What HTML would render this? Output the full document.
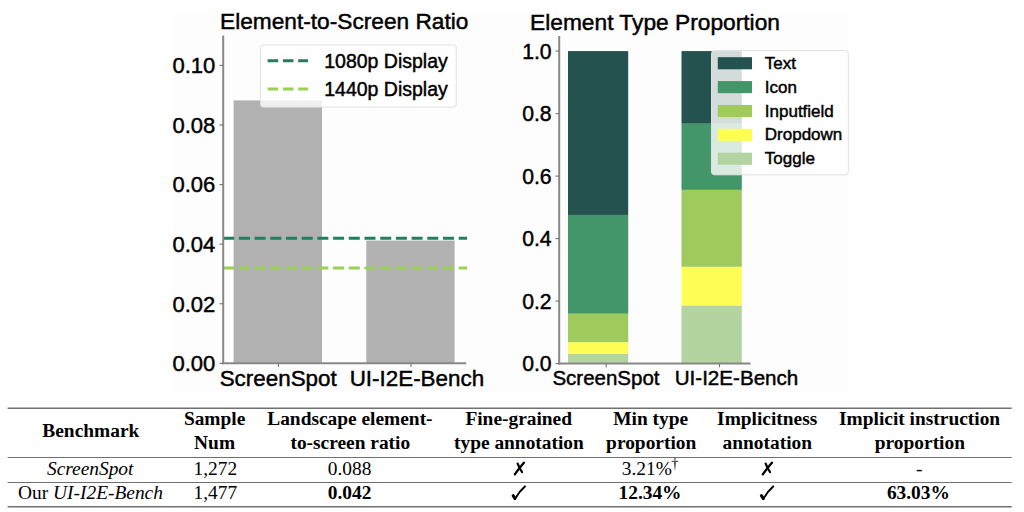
<!DOCTYPE html><html><head><meta charset="utf-8"><style>html,body{margin:0;padding:0;background:#fff;width:1024px;height:512px;overflow:hidden}svg{display:block}text[font-family="Liberation Sans"]{stroke:#000;stroke-width:0.45px}</style></head><body>
<svg width="1024" height="512" viewBox="0 0 1024 512">
<rect x="0" y="0" width="1024" height="512" fill="#fff"/>
<rect x="173.3" y="13" width="676.3" height="379" fill="#fdfdfd"/>
<rect x="233.6" y="100.4" width="88.4" height="262.90" fill="#b1b1b1"/>
<rect x="366.3" y="240.57" width="88.3" height="122.73" fill="#b1b1b1"/>
<line x1="223.2" y1="238.2" x2="467" y2="238.2" stroke="#217f60" stroke-width="3" stroke-dasharray="11 4.7"/>
<line x1="223.2" y1="268" x2="467" y2="268" stroke="#9bcf55" stroke-width="3" stroke-dasharray="11 4.7"/>
<line x1="223.2" y1="35.5" x2="223.2" y2="364.3" stroke="#888888" stroke-width="2"/>
<line x1="222.2" y1="363.3" x2="466.2" y2="363.3" stroke="#888888" stroke-width="2"/>
<line x1="219.39999999999998" y1="363.30" x2="223.2" y2="363.30" stroke="#777777" stroke-width="1.1"/>
<text x="215.3" y="371.20" font-family="Liberation Sans" font-size="22" text-anchor="end" fill="#000">0.00</text>
<line x1="219.39999999999998" y1="303.72" x2="223.2" y2="303.72" stroke="#777777" stroke-width="1.1"/>
<text x="215.3" y="311.62" font-family="Liberation Sans" font-size="22" text-anchor="end" fill="#000">0.02</text>
<line x1="219.39999999999998" y1="244.14" x2="223.2" y2="244.14" stroke="#777777" stroke-width="1.1"/>
<text x="215.3" y="252.04" font-family="Liberation Sans" font-size="22" text-anchor="end" fill="#000">0.04</text>
<line x1="219.39999999999998" y1="184.56" x2="223.2" y2="184.56" stroke="#777777" stroke-width="1.1"/>
<text x="215.3" y="192.46" font-family="Liberation Sans" font-size="22" text-anchor="end" fill="#000">0.06</text>
<line x1="219.39999999999998" y1="124.98" x2="223.2" y2="124.98" stroke="#777777" stroke-width="1.1"/>
<text x="215.3" y="132.88" font-family="Liberation Sans" font-size="22" text-anchor="end" fill="#000">0.08</text>
<line x1="219.39999999999998" y1="65.40" x2="223.2" y2="65.40" stroke="#777777" stroke-width="1.1"/>
<text x="215.3" y="73.30" font-family="Liberation Sans" font-size="22" text-anchor="end" fill="#000">0.10</text>
<line x1="278.4" y1="363.3" x2="278.4" y2="367.1" stroke="#777777" stroke-width="1.1"/>
<line x1="411.0" y1="363.3" x2="411.0" y2="367.1" stroke="#777777" stroke-width="1.1"/>
<text x="219.7" y="386.3" font-family="Liberation Sans" font-size="22.4" fill="#000">ScreenSpot</text>
<text x="349.7" y="386.3" font-family="Liberation Sans" font-size="22.4" fill="#000">UI-I2E-Bench</text>
<text x="220" y="29.2" font-family="Liberation Sans" font-size="22.7" fill="#000">Element-to-Screen Ratio</text>
<rect x="260.4" y="44.9" width="195.8" height="62.2" rx="3" fill="#fff" fill-opacity="0.8" stroke="#e0e0e0" stroke-width="1"/>
<line x1="267.6" y1="60.8" x2="308" y2="60.8" stroke="#217f60" stroke-width="3" stroke-dasharray="10.6 4.7"/>
<line x1="267.6" y1="89" x2="308" y2="89" stroke="#9bcf55" stroke-width="3" stroke-dasharray="10.6 4.7"/>
<text x="324.2" y="68" font-family="Liberation Sans" font-size="19.5" fill="#000">1080p Display</text>
<text x="324.2" y="95.6" font-family="Liberation Sans" font-size="19.5" fill="#000">1440p Display</text>
<rect x="568.0" y="353.79" width="60.2" height="9.81" fill="#b3d3a0"/>
<rect x="568.0" y="342.10" width="60.2" height="11.69" fill="#fdfd55"/>
<rect x="568.0" y="313.69" width="60.2" height="28.41" fill="#9ecb5c"/>
<rect x="568.0" y="214.94" width="60.2" height="98.75" fill="#43966a"/>
<rect x="568.0" y="51.10" width="60.2" height="163.84" fill="#24524e"/>
<rect x="681.5" y="305.41" width="60.3" height="58.19" fill="#b3d3a0"/>
<rect x="681.5" y="266.79" width="60.3" height="38.62" fill="#fdfd55"/>
<rect x="681.5" y="189.85" width="60.3" height="76.94" fill="#9ecb5c"/>
<rect x="681.5" y="123.69" width="60.3" height="66.16" fill="#43966a"/>
<rect x="681.5" y="51.10" width="60.3" height="72.59" fill="#24524e"/>
<line x1="559.2" y1="35.9" x2="559.2" y2="364.6" stroke="#888888" stroke-width="2"/>
<line x1="558.2" y1="363.6" x2="750.6" y2="363.6" stroke="#888888" stroke-width="2"/>
<line x1="555.4000000000001" y1="363.60" x2="559.2" y2="363.60" stroke="#777777" stroke-width="1.1"/>
<text x="551.6" y="371.20" font-family="Liberation Sans" font-size="21.2" text-anchor="end" fill="#000">0.0</text>
<line x1="555.4000000000001" y1="301.10" x2="559.2" y2="301.10" stroke="#777777" stroke-width="1.1"/>
<text x="551.6" y="308.70" font-family="Liberation Sans" font-size="21.2" text-anchor="end" fill="#000">0.2</text>
<line x1="555.4000000000001" y1="238.60" x2="559.2" y2="238.60" stroke="#777777" stroke-width="1.1"/>
<text x="551.6" y="246.20" font-family="Liberation Sans" font-size="21.2" text-anchor="end" fill="#000">0.4</text>
<line x1="555.4000000000001" y1="176.10" x2="559.2" y2="176.10" stroke="#777777" stroke-width="1.1"/>
<text x="551.6" y="183.70" font-family="Liberation Sans" font-size="21.2" text-anchor="end" fill="#000">0.6</text>
<line x1="555.4000000000001" y1="113.60" x2="559.2" y2="113.60" stroke="#777777" stroke-width="1.1"/>
<text x="551.6" y="121.20" font-family="Liberation Sans" font-size="21.2" text-anchor="end" fill="#000">0.8</text>
<line x1="555.4000000000001" y1="51.10" x2="559.2" y2="51.10" stroke="#777777" stroke-width="1.1"/>
<text x="551.6" y="58.70" font-family="Liberation Sans" font-size="21.2" text-anchor="end" fill="#000">1.0</text>
<line x1="606.2" y1="363.6" x2="606.2" y2="367.40000000000003" stroke="#777777" stroke-width="1.1"/>
<line x1="719.5" y1="363.6" x2="719.5" y2="367.40000000000003" stroke="#777777" stroke-width="1.1"/>
<text x="552.4" y="385.2" font-family="Liberation Sans" font-size="20.5" fill="#000">ScreenSpot</text>
<text x="674.7" y="385.2" font-family="Liberation Sans" font-size="20.6" fill="#000">UI-I2E-Bench</text>
<text x="530" y="29.5" font-family="Liberation Sans" font-size="22.75" fill="#000">Element Type Proportion</text>
<rect x="711.5" y="50.6" width="136.8" height="124.2" rx="3" fill="#fff" fill-opacity="0.8" stroke="#e0e0e0" stroke-width="1"/>
<rect x="717.8" y="57.20" width="34.2" height="12.1" fill="#24524e"/>
<text x="764.8" y="69.20" font-family="Liberation Sans" font-size="17" fill="#000">Text</text>
<rect x="717.8" y="81.07" width="34.2" height="12.1" fill="#43966a"/>
<text x="764.8" y="92.87" font-family="Liberation Sans" font-size="17" fill="#000">Icon</text>
<rect x="717.8" y="104.94" width="34.2" height="12.1" fill="#9ecb5c"/>
<text x="764.8" y="116.54" font-family="Liberation Sans" font-size="17" fill="#000">Inputfield</text>
<rect x="717.8" y="128.81" width="34.2" height="12.1" fill="#fdfd55"/>
<text x="764.8" y="140.21" font-family="Liberation Sans" font-size="17" fill="#000">Dropdown</text>
<rect x="717.8" y="152.68" width="34.2" height="12.1" fill="#b3d3a0"/>
<text x="764.8" y="163.88" font-family="Liberation Sans" font-size="17" fill="#000">Toggle</text>
<line x1="7.6" y1="408.3" x2="1011.7" y2="408.3" stroke="#707070" stroke-width="1.4"/>
<line x1="7.6" y1="457.5" x2="1011.7" y2="457.5" stroke="#707070" stroke-width="1.2"/>
<line x1="7.6" y1="482.5" x2="1011.7" y2="482.5" stroke="#707070" stroke-width="1.2"/>
<line x1="7.6" y1="506.7" x2="1011.7" y2="506.7" stroke="#707070" stroke-width="1.4"/>
<text x="90.8" y="437.4" font-family="Liberation Serif" font-size="19.4" text-anchor="middle" font-weight="bold" fill="#000">Benchmark</text>
<text x="214.6" y="425.3" font-family="Liberation Serif" font-size="19.4" text-anchor="middle" font-weight="bold" fill="#000">Sample</text>
<text x="214.6" y="449.3" font-family="Liberation Serif" font-size="19.4" text-anchor="middle" font-weight="bold" fill="#000">Num</text>
<text x="349.9" y="425.3" font-family="Liberation Serif" font-size="19.4" text-anchor="middle" font-weight="bold" fill="#000">Landscape element-</text>
<text x="350.3" y="449.3" font-family="Liberation Serif" font-size="19.4" text-anchor="middle" font-weight="bold" fill="#000">to-screen ratio</text>
<text x="518.7" y="425.3" font-family="Liberation Serif" font-size="19.4" text-anchor="middle" font-weight="bold" fill="#000">Fine-grained</text>
<text x="518.9" y="449.3" font-family="Liberation Serif" font-size="19.4" text-anchor="middle" font-weight="bold" fill="#000">type annotation</text>
<text x="650.7" y="425.3" font-family="Liberation Serif" font-size="19.4" text-anchor="middle" font-weight="bold" fill="#000">Min type</text>
<text x="651.2" y="449.3" font-family="Liberation Serif" font-size="19.4" text-anchor="middle" font-weight="bold" fill="#000">proportion</text>
<text x="767.2" y="425.3" font-family="Liberation Serif" font-size="19.4" text-anchor="middle" font-weight="bold" fill="#000">Implicitness</text>
<text x="767.3" y="449.3" font-family="Liberation Serif" font-size="19.4" text-anchor="middle" font-weight="bold" fill="#000">annotation</text>
<text x="919.6" y="425.3" font-family="Liberation Serif" font-size="19.4" text-anchor="middle" font-weight="bold" fill="#000">Implicit instruction</text>
<text x="919.9" y="449.3" font-family="Liberation Serif" font-size="19.4" text-anchor="middle" font-weight="bold" fill="#000">proportion</text>
<text x="90.2" y="474.5" font-family="Liberation Serif" font-size="19.4" text-anchor="middle" font-style="italic" fill="#000">ScreenSpot</text>
<text x="90.5" y="499.0" font-family="Liberation Serif" font-size="19.4" text-anchor="middle" fill="#000">Our <tspan font-style="italic">UI-I2E-Bench</tspan></text>
<text x="215.4" y="474.5" font-family="Liberation Serif" font-size="19.4" text-anchor="middle" fill="#000">1,272</text>
<text x="215.4" y="499.0" font-family="Liberation Serif" font-size="19.4" text-anchor="middle" fill="#000">1,477</text>
<text x="349.6" y="474.5" font-family="Liberation Serif" font-size="19.4" text-anchor="middle" fill="#000">0.088</text>
<text x="349.6" y="499.0" font-family="Liberation Serif" font-size="19.4" text-anchor="middle" font-weight="bold" fill="#000">0.042</text>
<text x="621.8" y="474.5" font-family="Liberation Serif" font-size="19.4" fill="#000">3.21%<tspan font-size="14.5" dy="-6.8" dx="-0.6">†</tspan></text>
<text x="650.0" y="499.0" font-family="Liberation Serif" font-size="19.4" text-anchor="middle" font-weight="bold" fill="#000">12.34%</text>
<text x="919.3" y="474.5" font-family="Liberation Serif" font-size="19.4" text-anchor="middle" fill="#000">-</text>
<text x="918.4" y="499.0" font-family="Liberation Serif" font-size="19.4" text-anchor="middle" font-weight="bold" fill="#000">63.03%</text>
<g transform="translate(0,0)" fill="none" stroke="#000" stroke-linecap="round"><path d="M514.8 474.4 Q519.2 468 523.9 462.7" stroke-width="2.3"/><path d="M517.6 463.5 Q519.6 468.6 522.1 472.1" stroke-width="2.1"/></g>
<g transform="translate(0,0)" fill="none" stroke="#000" stroke-linecap="round"><path d="M513.1 495.6 L515.0 498.6" stroke-width="2.9"/><path d="M515.2 498.6 Q519 491.5 524.9 486.4" stroke-width="2.0"/></g>
<g transform="translate(248,0)" fill="none" stroke="#000" stroke-linecap="round"><path d="M514.8 474.4 Q519.2 468 523.9 462.7" stroke-width="2.3"/><path d="M517.6 463.5 Q519.6 468.6 522.1 472.1" stroke-width="2.1"/></g>
<g transform="translate(248.3,0)" fill="none" stroke="#000" stroke-linecap="round"><path d="M513.1 495.6 L515.0 498.6" stroke-width="2.9"/><path d="M515.2 498.6 Q519 491.5 524.9 486.4" stroke-width="2.0"/></g>
</svg></body></html>
